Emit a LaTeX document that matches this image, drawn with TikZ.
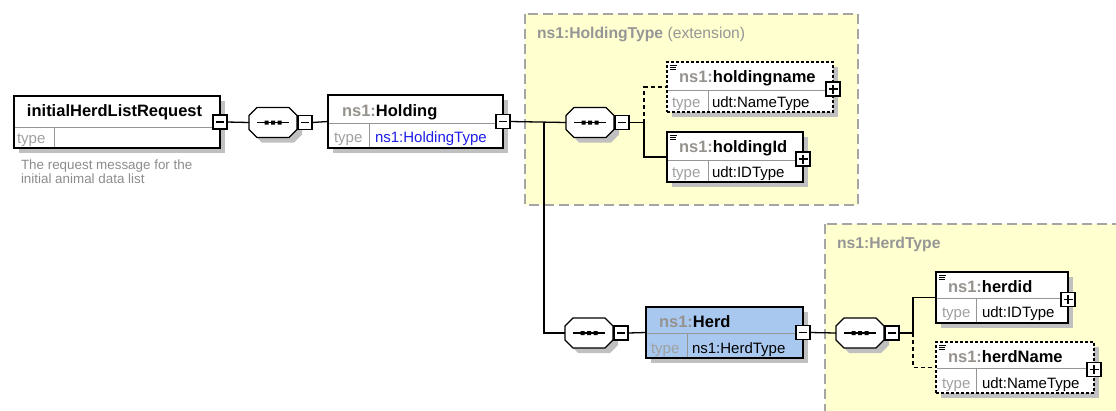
\documentclass[tikz,border=0pt]{standalone}
\usepackage{fontspec}
\setmainfont{Liberation Sans}
\usetikzlibrary{calc}

\definecolor{nsgray}{RGB}{150,146,142}
\definecolor{typegray}{RGB}{160,160,160}
\definecolor{typeblue}{RGB}{30,30,230}
\definecolor{lblgray}{RGB}{150,150,150}
\definecolor{regionfill}{RGB}{255,255,208}
\definecolor{regionline}{RGB}{165,165,165}
\definecolor{shadowc}{RGB}{192,192,192}
\definecolor{divgray}{RGB}{150,150,150}
\definecolor{herdblue}{RGB}{168,200,240}
\definecolor{desc}{RGB}{140,140,140}

% element box with drop shadow: name, style, x, y, width, height
\newcommand\xsdbox[6]{%
  \fill[shadowc] (#3+5,#4+5) rectangle ++(#5,#6);
  \node[elembox,#2,minimum width=#5pt,minimum height=#6pt,anchor=north west] (#1) at (#3,#4) {};
}
% row and column dividers inside an element box: name, row y, column x
\newcommand\xsdrows[3]{%
  \draw[divline] ($(#1.west |- 0,#2)+(0.7,0)$) -- ($(#1.east |- 0,#2)+(-0.7,0)$);
  \draw[divline] (#3,#2) -- ($(#1.south -| #3,0)+(0,-0.7)$);
}
% documentation mark in the upper left corner
\newcommand\xsdnote[1]{%
  \draw[line width=1pt] ($(#1.north west)+(3,3)$) -- ++(7,0) ++(-7,2.2) -- ++(6,0) ++(-6,2.2) -- ++(6,0);
}
% sequence compositor: name, centre x, centre y
\newcommand\xsdseq[3]{%
  \node[minimum width=48pt,minimum height=30pt,inner sep=0pt,outer sep=0pt] (#1) at (#2,#3) {};
  \fill[shadowc,shift={(#1)},shift={(5,5)}] (-24,-7) -- (-16,-15) -- (16,-15) -- (24,-7) -- (24,7) -- (16,15) -- (-16,15) -- (-24,7) -- cycle;
  \draw[seqline,fill=white,shift={(#1)}] (-24,-7) -- (-16,-15) -- (16,-15) -- (24,-7) -- (24,7) -- (16,15) -- (-16,15) -- (-24,7) -- cycle;
  \draw[line width=1.3pt,shift={(#1)}] (-16,0) -- (16,0);
  \fill[shift={(#1)}] (-8.5,-2) rectangle ++(4,4) (-2,-2) rectangle ++(4,4) (4.5,-2) rectangle ++(4,4);
  \node[minusbox,anchor=west] (#1m) at ($(#1.east)+(1,0)$) {};
}

\begin{document}
\begin{tikzpicture}[x=1pt,y=-1pt,
  elembox/.style={draw=black,fill=white,line width=1.3pt,inner sep=0pt,outer sep=0pt},
  optional/.style={dash pattern=on 3pt off 2pt},
  divline/.style={draw=divgray,line width=0.8pt},
  seqline/.style={draw=black,line width=1.2pt},
  conn/.style={draw=black,line width=1.3pt},
  optconn/.style={conn,dash pattern=on 4pt off 3pt},
  minusbox/.style={draw=black,fill=white,line width=1.1pt,minimum width=14pt,minimum height=14pt,inner sep=0pt,outer sep=0pt,
    path picture={\draw[line width=1.1pt] ($(path picture bounding box.west)+(3,0)$) -- ($(path picture bounding box.east)+(-3,0)$);}},
  plusbox/.style={minusbox,
    path picture={\draw[line width=1.1pt] ($(path picture bounding box.west)+(2.5,0)$) -- ($(path picture bounding box.east)+(-2.5,0)$)
      ($(path picture bounding box.north)+(0,2.5)$) -- ($(path picture bounding box.south)+(0,-2.5)$);}},
  region/.style={fill=regionfill,draw=regionline,line width=1.4pt,dash pattern=on 10pt off 5pt},
  nametext/.style={inner sep=0pt,outer sep=0pt,anchor=base west,font=\fontsize{16.5}{18}\bfseries\selectfont},
  typelbl/.style={inner sep=0pt,outer sep=0pt,anchor=base west,text=typegray,font=\fontsize{15}{17}\selectfont},
  typeval/.style={inner sep=0pt,outer sep=0pt,anchor=base west,font=\fontsize{15}{17}\selectfont},
  doctext/.style={inner sep=0pt,outer sep=0pt,anchor=base west,text=desc,font=\fontsize{13.4}{14.5}\selectfont},
  grouplbl/.style={inner sep=0pt,outer sep=0pt,anchor=base west,text=lblgray,font=\fontsize{15.7}{18}\bfseries\selectfont},
]
\useasboundingbox (0,0) rectangle (1116,410);

% complex type groups
\path[region] (525,14) rectangle (858,205);
\path[region] (825,224) rectangle (1130,420);
\node[grouplbl] (lblHoldingType) at (537,38) {ns1:HoldingType {\mdseries(extension)}};
\node[grouplbl] (lblHerdType) at (837,248) {ns1:HerdType};

% root element
\xsdbox{req}{}{14}{96}{206}{52}
\xsdrows{req}{127}{54}
\node[nametext] (reqName) at (27,116) {initialHerdListRequest};
\node[typelbl] (reqType) at (17,143) {type};
\node[minusbox] (reqm) at (req.east) {};
\node[doctext] (reqDocA) at (21,169) {The request message for the};
\node[doctext] (reqDocB) at (21,183.5) {initial animal data list};

% ns1:Holding
\xsdbox{hold}{}{328}{95}{175}{53}
\xsdrows{hold}{123}{369}
\node[nametext] (holdName) at (342,116) {\textcolor{nsgray}{ns1:}Holding};
\node[typelbl] (holdType) at (334,142) {type};
\node[typeval,text=typeblue] (holdTypeVal) at (375,142) {ns1:HoldingType};
\node[minusbox] (holdm) at (hold.east) {};

% ns1:holdingname (optional)
\xsdbox{hname}{optional}{667}{62}{166}{50}
\xsdrows{hname}{90}{708}
\xsdnote{hname}
\node[nametext] (hnameName) at (679,82) {\textcolor{nsgray}{ns1:}holdingname};
\node[typelbl] (hnameType) at (672,107) {type};
\node[typeval] (hnameTypeVal) at (712,107) {udt:NameType};
\node[plusbox] (hnamep) at ($(hname.east)+(0,2)$) {};

% ns1:holdingId
\xsdbox{hid}{}{667}{132}{136}{50}
\xsdrows{hid}{160}{708}
\xsdnote{hid}
\node[nametext] (hidName) at (679,152) {\textcolor{nsgray}{ns1:}holdingId};
\node[typelbl] (hidType) at (672,177) {type};
\node[typeval] (hidTypeVal) at (712,177) {udt:IDType};
\node[plusbox] (hidp) at ($(hid.east)+(0,2)$) {};

% ns1:Herd
\xsdbox{herd}{fill=herdblue}{646}{307}{157}{51}
\xsdrows{herd}{333}{687}
\node[nametext] (herdName) at (659,327) {\textcolor{nsgray}{ns1:}Herd};
\node[typelbl] (herdType) at (651,353) {type};
\node[typeval] (herdTypeVal) at (692,353) {ns1:HerdType};
\node[minusbox] (herdm) at (herd.east) {};

% ns1:herdid
\xsdbox{hdid}{}{936}{272}{132}{51}
\xsdrows{hdid}{298}{976}
\xsdnote{hdid}
\node[nametext] (hdidName) at (948,292) {\textcolor{nsgray}{ns1:}herdid};
\node[typelbl] (hdidType) at (942,317) {type};
\node[typeval] (hdidTypeVal) at (982,317) {udt:IDType};
\node[plusbox] (hdidp) at ($(hdid.east)+(0,2)$) {};

% ns1:herdName (optional)
\xsdbox{hdname}{optional}{936}{342}{158}{51}
\xsdrows{hdname}{368}{976}
\xsdnote{hdname}
\node[nametext] (hdnameName) at (948,362) {\textcolor{nsgray}{ns1:}herdName};
\node[typelbl] (hdnameType) at (942,388) {type};
\node[typeval] (hdnameTypeVal) at (982,388) {udt:NameType};
\node[plusbox] (hdnamep) at ($(hdname.east)+(0,2)$) {};

% sequence compositors
\xsdseq{c1}{273}{122.5}
\xsdseq{c2}{590}{122.5}
\xsdseq{c3}{589}{333}
\xsdseq{c4}{860}{333}

% branch points
\coordinate (br1) at (544,122.5);
\coordinate (br2) at (644,122.5);
\coordinate (br4) at (913,333);

% connectors
\draw[conn] (reqm.east) -- (c1.west);
\draw[conn] (c1m.east) -- (hold.west);
\draw[conn] (holdm.east) -- (c2.west);
\draw[conn] (br1) |- (c3.west);
\draw[conn] (c2m.east) -- (br2);
\draw[optconn] (br2) |- (hname.west);
\draw[conn] (br2) |- (hid.west);
\draw[conn] (c3m.east) -- (herd.west);
\draw[conn] (herdm.east) -- (c4.west);
\draw[conn] (c4m.east) -- (br4);
\draw[conn] (br4) |- (hdid.west);
\draw[optconn] (br4) |- (hdname.west);
\end{tikzpicture}
\end{document}
